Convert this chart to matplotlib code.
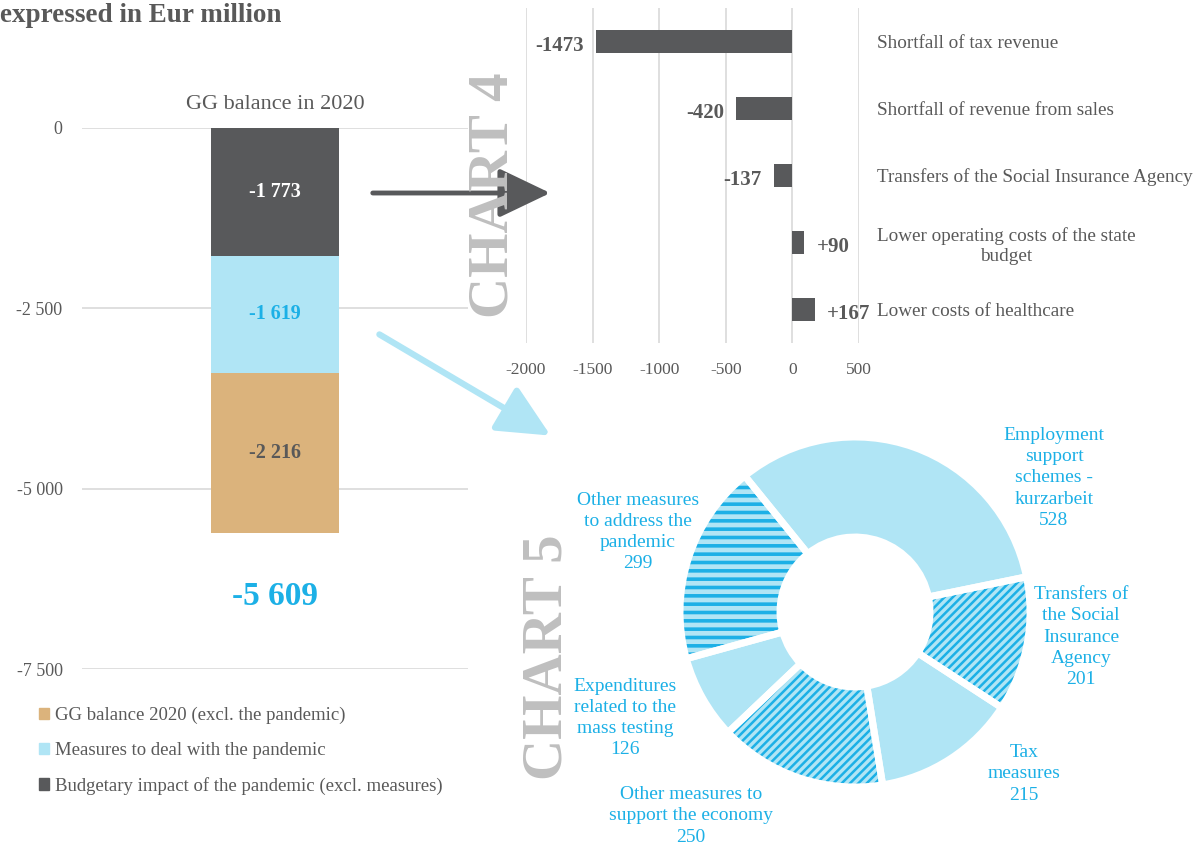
import matplotlib
matplotlib.use("Agg")
import matplotlib.pyplot as plt
from matplotlib.patches import Patch, FancyArrowPatch

plt.rcParams['font.family'] = ['Liberation Serif', 'DejaVu Serif']
plt.rcParams['hatch.linewidth'] = 1.8

# ---------------- data ----------------
balance_labels = ["Budgetary impact of the pandemic (excl. measures)",
                  "Measures to deal with the pandemic",
                  "GG balance 2020 (excl. the pandemic)"]
balance_values = [-1773, -1619, -2216]
balance_text = ["-1 773", "-1 619", "-2 216"]
balance_total_text = "-5 609"
left_yticks = [0, -2500, -5000, -7500]
left_yticklabels = ["0", "-2 500", "-5 000", "-7 500"]

c4_categories = ["Shortfall of tax revenue",
                 "Shortfall of revenue from sales",
                 "Transfers of the Social Insurance Agency",
                 "Lower operating costs of the state\nbudget",
                 "Lower costs of healthcare"]
c4_values = [-1473, -420, -137, 90, 167]
c4_text = ["-1473", "-420", "-137", "+90", "+167"]
c4_xticks = [-2000, -1500, -1000, -500, 0, 500]

c5_labels = ["Employment\nsupport\nschemes -\nkurzarbeit",
             "Transfers of\nthe Social\nInsurance\nAgency",
             "Tax\nmeasures",
             "Other measures to\nsupport the economy",
             "Expenditures\nrelated to the\nmass testing",
             "Other measures\nto address the\npandemic"]
c5_values = [528, 201, 215, 250, 126, 299]
c5_hatches = [None, '////', None, '////', None, '--']

# ---------------- style ----------------
DARK = '#58595b'
LBLUE = '#b0e5f5'
TAN = '#dbb37c'
BLUE = '#1cb0e6'
GREY = '#595959'
GRID = '#d9d9d9'
W, H = 1199, 848

fig = plt.figure(figsize=(W / 100, H / 100), dpi=100)


def rect(x0, y0, x1, y1):
    return [x0 / W, 1 - y1 / H, (x1 - x0) / W, (y1 - y0) / H]


def fp(x, y):
    return (x / W, 1 - y / H)


fig.text(*fp(0, 15), "expressed in Eur million", fontsize=19.5, fontweight='bold',
         color=GREY, ha='left', va='center')

# ---------------- left stacked bar ----------------
ax1 = fig.add_axes(rect(82, 128, 468, 669))
bottom = 0
colors = [DARK, LBLUE, TAN]
txtcolors = ['white', BLUE, GREY]
for v, c, t, tc in zip(balance_values, colors, balance_text, txtcolors):
    ax1.bar(0.5, v, bottom=bottom, width=0.334, color=c, zorder=3)
    ax1.text(0.5, bottom + v / 2, t, ha='center', va='center', color=tc,
             fontsize=14.5, fontweight='bold', zorder=4)
    bottom += v
ax1.annotate(balance_total_text, xy=(0.5, bottom), xytext=(0, -46),
             textcoords='offset points', ha='center', va='center',
             color=BLUE, fontsize=24, fontweight='bold')
ax1.set_xlim(0, 1)
ax1.set_ylim(-7500, 0)
ax1.set_yticks(left_yticks)
ax1.set_yticklabels(left_yticklabels)
ax1.set_xticks([])
ax1.tick_params(axis='y', length=0, pad=14, labelsize=13, labelcolor=GREY)
ax1.grid(axis='y', color=GRID, lw=1.2, zorder=0)
for s in ax1.spines.values():
    s.set_visible(False)
ax1.set_title("GG balance in 2020", fontsize=16, color=GREY, pad=14)

handles = [Patch(color=TAN), Patch(color=LBLUE), Patch(color=DARK)]
fig.legend(handles, [balance_labels[2], balance_labels[1], balance_labels[0]],
           loc='upper left', bbox_to_anchor=fp(22, 690), frameon=False,
           handlelength=0.55, handleheight=0.55, handletextpad=0.3,
           labelspacing=0.95, fontsize=13.5, labelcolor=GREY)

# ---------------- chart 4 ----------------
ax4 = fig.add_axes(rect(526, 8, 859, 343))
ypos = list(range(len(c4_values)))
ax4.barh(ypos, c4_values, height=0.34, color=DARK, zorder=3)
for y, v, t in zip(ypos, c4_values, c4_text):
    off = -9 if v < 0 else 9
    ax4.annotate(t, xy=(v, y), xytext=(off, -3), textcoords='offset points',
                 ha='right' if v < 0 else 'left', va='center',
                 fontsize=15, fontweight='bold', color=GREY)
ax4.set_xlim(-2000, 500)
ax4.set_ylim(len(c4_values) - 0.5, -0.5)
ax4.set_xticks(c4_xticks)
ax4.set_xticklabels([str(x) for x in c4_xticks])
ax4.set_yticks(ypos)
ax4.set_yticklabels(c4_categories)
ax4.yaxis.tick_right()
for lbl in ax4.get_yticklabels():
    lbl.set_multialignment('center')
ax4.tick_params(axis='y', length=0, pad=13, labelsize=13.8, labelcolor=GREY)
ax4.tick_params(axis='x', length=0, pad=14, labelsize=12.5, labelcolor=GREY)
ax4.grid(axis='x', color=GRID, lw=1.2, zorder=0)
for s in ax4.spines.values():
    s.set_visible(False)

fig.text(*fp(494, 195), "CHART 4", rotation=90, fontsize=41, fontweight='bold',
         color='#bfbfbf', ha='center', va='center')

# ---------------- chart 5 donut ----------------
R = 175
ax5 = fig.add_axes(rect(855 - 200, 612 - 200, 855 + 200, 612 + 200))
wedges, _ = ax5.pie(c5_values, startangle=129, counterclock=False, radius=1,
                    colors=[LBLUE] * len(c5_values),
                    wedgeprops=dict(width=1 - 75 / R, edgecolor=BLUE, linewidth=0))
for w, h in zip(wedges, c5_hatches):
    if h:
        w.set_hatch(h)
        lw = 2.6 if h == '--' else 1.8
        if hasattr(w, 'set_hatch_linewidth'):
            w.set_hatch_linewidth(lw)
        elif hasattr(w, '_hatch_linewidth'):
            w._hatch_linewidth = lw
ax5.pie(c5_values, startangle=129, counterclock=False, radius=1,
        colors=['none'] * len(c5_values),
        wedgeprops=dict(width=1 - 75 / R, edgecolor='white', linewidth=5))
lim = 200 / R
ax5.set_xlim(-lim, lim)
ax5.set_ylim(-lim, lim)
ax5.set_aspect('equal')
ax5.axis('off')

label_pos = [(1054, 478), (1081, 637), (1024, 774), (691, 816), (625, 718), (638, 532)]
for (x, y), lab, v in zip(label_pos, c5_labels, c5_values):
    fig.text(*fp(x, y), f"{lab}\n{v}", ha='center', va='center', color=BLUE,
             fontsize=14, linespacing=1.33, multialignment='center')

fig.text(*fp(547, 657), "CHART 5", rotation=90, fontsize=41, fontweight='bold',
         color='#bfbfbf', ha='center', va='center')

# ---------------- arrows ----------------
a1 = FancyArrowPatch(fp(370, 193), fp(553, 193), transform=fig.transFigure,
                     arrowstyle='-|>,head_length=2.3,head_width=1.1',
                     mutation_scale=14, color=DARK, lw=3.5)
a2 = FancyArrowPatch(fp(377, 333), fp(553, 437), transform=fig.transFigure,
                     arrowstyle='-|>,head_length=2.3,head_width=1.1',
                     mutation_scale=14, color=LBLUE, lw=4.5)
fig.patches.extend([a1, a2])

fig.savefig("out.png", dpi=100)
